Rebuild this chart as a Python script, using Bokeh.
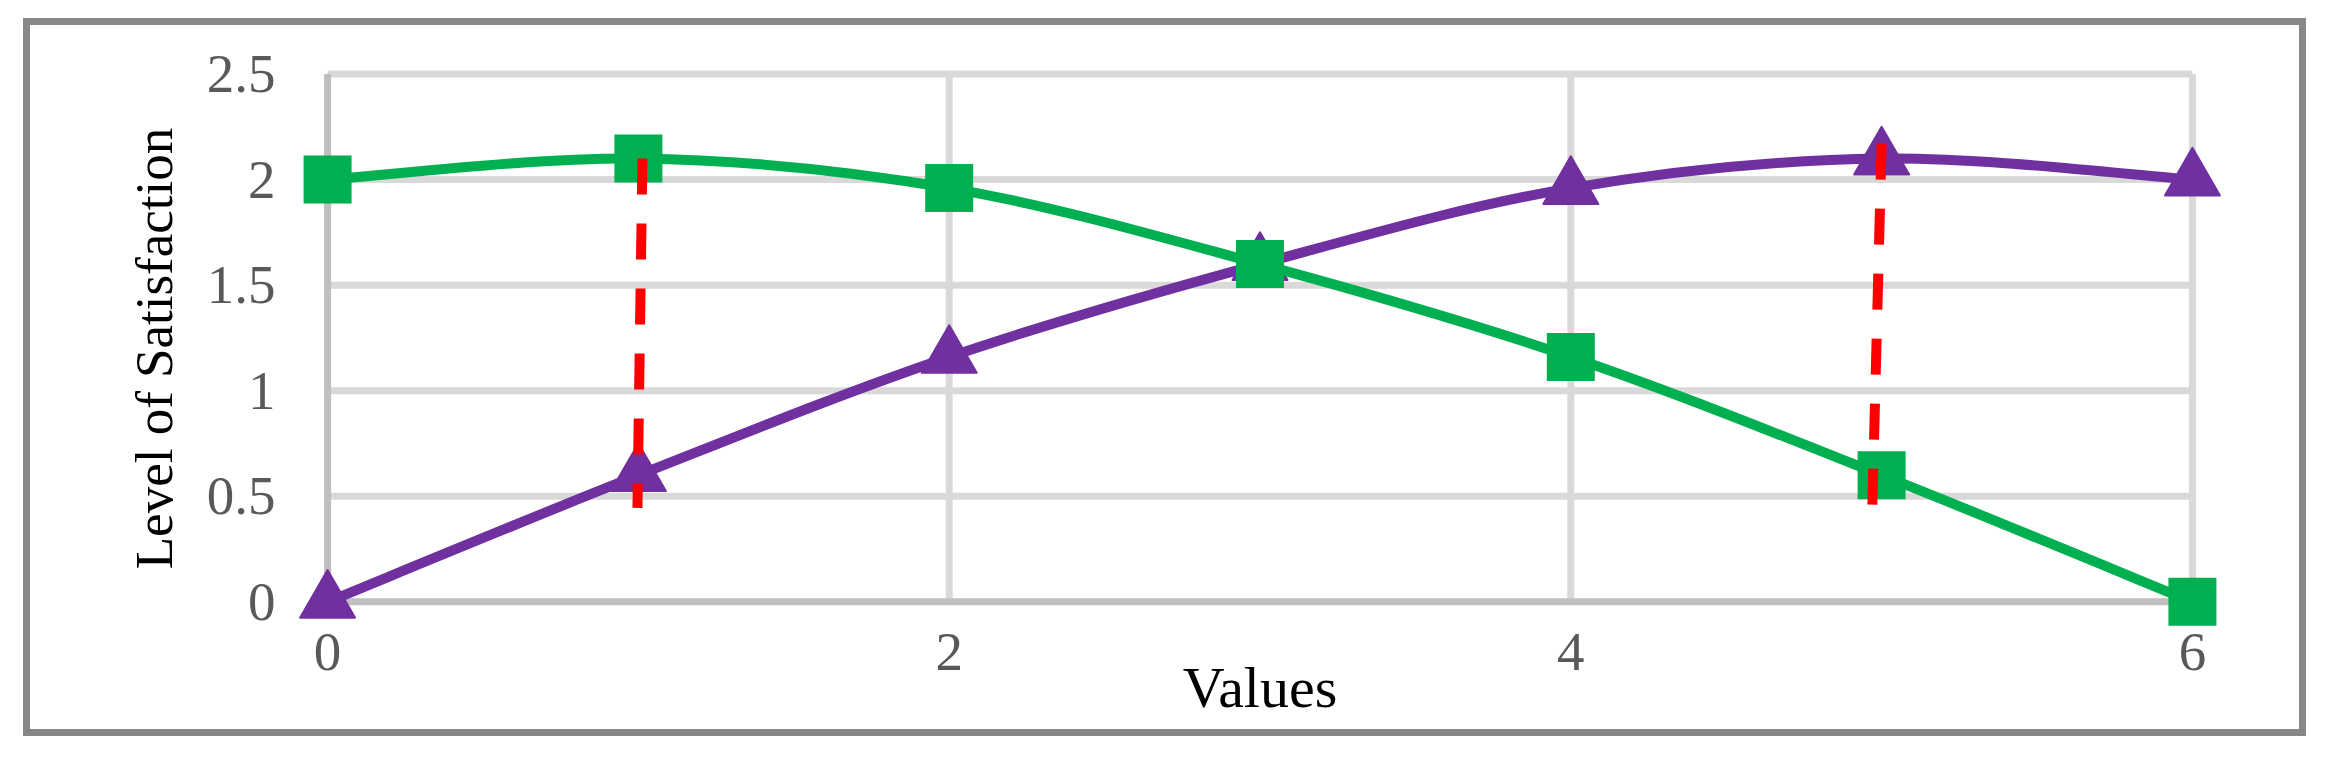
from bokeh.plotting import figure
from bokeh.layouts import column
from bokeh.models import FixedTicker, Range1d, ColumnDataSource
from bokeh.embed import file_html
from bokeh.resources import INLINE

# ---- data ----
x_vals = [0, 1, 2, 3, 4, 5, 6]
green_vals = [2.0, 2.1, 1.96, 1.6, 1.16, 0.6, 0.0]
purple_vals = [0.0, 0.6, 1.16, 1.6, 1.96, 2.1, 2.0]

x_ticks = [0, 2, 4, 6]
x_labels = ["0", "2", "4", "6"]
y_ticks = [0, 0.5, 1, 1.5, 2, 2.5]
y_labels = ["0", "0.5", "1", "1.5", "2", "2.5"]

# red dashed marker lines (top point -> bottom point)
red_x_top = [1.013, 5.0]
red_y_top = [2.10, 2.17]
red_x_bot = [0.997, 4.97]
red_y_bot = [0.445, 0.445]

GREEN = "#00B050"
PURPLE = "#7030A0"
FONT = "Liberation Serif"


def smooth_segments(xs, ys):
    """Catmull-Rom style Bezier control points (Excel-like smoothing)."""
    n = len(xs)
    px = [xs[0]] + list(xs) + [xs[-1]]
    py = [ys[0]] + list(ys) + [ys[-1]]
    d = dict(x0=[], y0=[], x1=[], y1=[], cx0=[], cy0=[], cx1=[], cy1=[])
    for i in range(n - 1):
        j = i + 1
        d["x0"].append(px[j]); d["y0"].append(py[j])
        d["x1"].append(px[j + 1]); d["y1"].append(py[j + 1])
        d["cx0"].append(px[j] + (px[j + 1] - px[j - 1]) / 6.0)
        d["cy0"].append(py[j] + (py[j + 1] - py[j - 1]) / 6.0)
        d["cx1"].append(px[j + 1] - (px[j + 2] - px[j]) / 6.0)
        d["cy1"].append(py[j + 1] - (py[j + 2] - py[j]) / 6.0)
    return ColumnDataSource(d)


p = figure(
    frame_width=1927, frame_height=570,
    x_range=Range1d(-0.1, 6.1), y_range=Range1d(-0.15, 2.55),
    output_backend="svg", toolbar_location=None,
    min_border_left=266, min_border_top=38,
    min_border_right=76, min_border_bottom=96,
)
p.outline_line_color = None
p.background_fill_color = "white"
p.border_fill_color = "white"
p.xgrid.visible = False
p.ygrid.visible = False

# grid lines (drawn from tick arrays)
x_lo, x_hi = x_ticks[0], x_ticks[-1]
y_lo, y_hi = y_ticks[0], y_ticks[-1]
p.segment(x0=x_ticks[1:], y0=[y_lo] * 3, x1=x_ticks[1:], y1=[y_hi] * 3,
          line_color="#d9d9d9", line_width=7)
p.segment(x0=[x_lo] * 5, y0=y_ticks[1:], x1=[x_hi] * 5, y1=y_ticks[1:],
          line_color="#d9d9d9", line_width=7)
# axis lines
p.segment(x0=[x_lo, x_lo], y0=[y_lo, y_lo], x1=[x_hi, x_lo], y1=[y_lo, y_hi],
          line_color="#bfbfbf", line_width=7)

# purple series
p.bezier(x0="x0", y0="y0", x1="x1", y1="y1", cx0="cx0", cy0="cy0", cx1="cx1", cy1="cy1",
         source=smooth_segments(x_vals, purple_vals), line_color=PURPLE, line_width=10)
p.scatter(x_vals, purple_vals, marker="triangle", size=55,
          fill_color=PURPLE, line_color=PURPLE, line_width=2, line_join="round")

# green series
p.bezier(x0="x0", y0="y0", x1="x1", y1="y1", cx0="cx0", cy0="cy0", cx1="cx1", cy1="cy1",
         source=smooth_segments(x_vals, green_vals), line_color=GREEN, line_width=10)
p.scatter(x_vals, green_vals, marker="square", size=48,
          fill_color=GREEN, line_color=GREEN, line_width=0)

# red dashed lines
p.segment(x0=red_x_top, y0=red_y_top, x1=red_x_bot, y1=red_y_bot,
          line_color="#FF0000", line_width=10, line_dash="36 29")

# axes
for ax in (p.xaxis[0], p.yaxis[0]):
    ax.axis_line_color = None
    ax.major_tick_line_color = None
    ax.minor_tick_line_color = None
    ax.major_label_text_font = FONT
    ax.major_label_text_font_size = "55px"
    ax.major_label_text_color = "#595959"
    ax.axis_label_text_font = FONT
    ax.axis_label_text_font_style = "normal"
    ax.axis_label_text_color = "black"

p.xaxis.axis_label_text_font_size = "58px"
p.yaxis.axis_label_text_font_size = "53px"
p.xaxis.ticker = FixedTicker(ticks=x_ticks)
p.yaxis.ticker = FixedTicker(ticks=y_ticks)
p.xaxis.major_label_overrides = {t: l for t, l in zip(x_ticks, x_labels)}
p.yaxis.major_label_overrides = {t: l for t, l in zip(y_ticks, y_labels)}
p.xaxis.axis_label = "Values"
p.yaxis.axis_label = "Level of Satisfaction"
p.xaxis.major_label_standoff = -6
p.xaxis.axis_label_standoff = -18
p.yaxis.major_label_standoff = 15
p.yaxis.axis_label_standoff = 21

# outer grey frame around the whole chart
layout = column(p, margin=(18, 0, 0, 23),
                styles={"border": "7px solid #878787", "background-color": "white"})

open("out.html", "w").write(file_html(layout, INLINE))
